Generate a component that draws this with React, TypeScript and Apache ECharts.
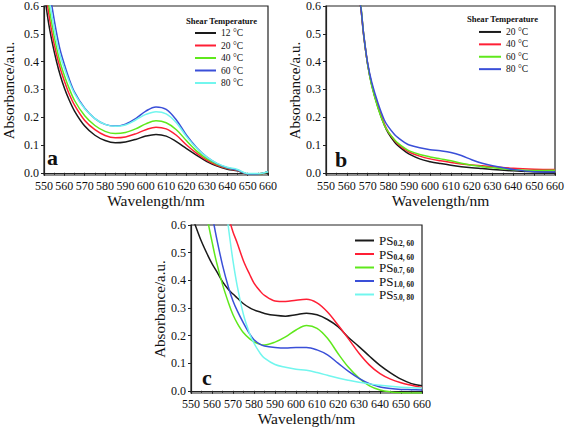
import React, { useEffect, useRef } from "react";
import * as echarts from "echarts";

const FONT = "Liberation Serif";

// ---------- Panel a ----------
const WL_A = [550, 552, 554, 556, 558, 560, 562, 565, 570, 575, 580, 585, 590, 595, 600, 605, 610, 615, 620, 625, 630, 635, 640, 645, 650, 655, 660];
const A_12 = [0.66, 0.55, 0.47, 0.405, 0.35, 0.305, 0.268, 0.222, 0.168, 0.135, 0.116, 0.108, 0.111, 0.12, 0.132, 0.138, 0.132, 0.112, 0.087, 0.063, 0.04, 0.024, 0.013, 0.007, -0.004, -0.004, 0.003];
const A_20 = [0.7, 0.59, 0.5, 0.43, 0.375, 0.33, 0.29, 0.243, 0.188, 0.155, 0.134, 0.126, 0.129, 0.14, 0.155, 0.164, 0.158, 0.135, 0.1, 0.07, 0.045, 0.027, 0.015, 0.008, -0.004, -0.004, 0.003];
const A_40 = [0.73, 0.62, 0.53, 0.455, 0.395, 0.35, 0.31, 0.26, 0.205, 0.17, 0.149, 0.141, 0.145, 0.158, 0.176, 0.187, 0.18, 0.155, 0.115, 0.078, 0.05, 0.03, 0.017, 0.01, -0.004, -0.004, 0.003];
const A_60 = [0.8, 0.69, 0.595, 0.51, 0.44, 0.39, 0.345, 0.29, 0.232, 0.195, 0.174, 0.168, 0.175, 0.195, 0.222, 0.237, 0.228, 0.19, 0.135, 0.09, 0.056, 0.033, 0.018, 0.01, -0.004, -0.004, 0.004];
const A_80 = [0.76, 0.65, 0.56, 0.48, 0.42, 0.375, 0.335, 0.285, 0.23, 0.195, 0.174, 0.167, 0.172, 0.19, 0.21, 0.22, 0.212, 0.18, 0.13, 0.088, 0.056, 0.034, 0.02, 0.012, -0.003, -0.003, 0.004];

// ---------- Panel b ----------
const WL_B = [562, 565, 567, 568, 570, 572, 575, 578, 580, 583, 585, 588, 590, 595, 600, 605, 610, 615, 620, 625, 630, 640, 650, 660];
const B_20 = [0.9, 0.7, 0.575, 0.5, 0.39, 0.315, 0.235, 0.172, 0.142, 0.11, 0.095, 0.077, 0.067, 0.05, 0.04, 0.033, 0.027, 0.022, 0.018, 0.015, 0.012, 0.007, 0.004, 0.002];
const B_40 = [0.9, 0.7, 0.578, 0.503, 0.392, 0.318, 0.238, 0.176, 0.146, 0.116, 0.1, 0.083, 0.074, 0.06, 0.05, 0.043, 0.037, 0.032, 0.028, 0.025, 0.022, 0.016, 0.013, 0.012];
const B_60 = [0.92, 0.71, 0.585, 0.505, 0.39, 0.312, 0.232, 0.172, 0.146, 0.118, 0.104, 0.088, 0.079, 0.066, 0.057, 0.05, 0.043, 0.034, 0.027, 0.022, 0.018, 0.011, 0.008, 0.009];
const B_80 = [0.9, 0.7, 0.58, 0.505, 0.395, 0.325, 0.25, 0.19, 0.165, 0.137, 0.124, 0.108, 0.1, 0.09, 0.083, 0.079, 0.073, 0.062, 0.047, 0.034, 0.025, 0.012, 0.004, 0.003];

// ---------- Panel c ----------
const WL_C = [550, 552, 555, 558, 560, 562, 565, 568, 570, 572, 575, 578, 580, 583, 585, 590, 595, 600, 605, 610, 615, 620, 625, 630, 635, 640, 645, 650, 655, 660];
const C_02 = [0.64, 0.6, 0.54, 0.49, 0.46, 0.435, 0.395, 0.365, 0.35, 0.336, 0.315, 0.3, 0.293, 0.285, 0.28, 0.273, 0.27, 0.275, 0.281, 0.275, 0.258, 0.232, 0.193, 0.16, 0.125, 0.092, 0.065, 0.042, 0.026, 0.018];
const C_04 = [1.2, 1.1, 1.0, 0.9, 0.84, 0.78, 0.7, 0.625, 0.575, 0.535, 0.47, 0.42, 0.39, 0.36, 0.345, 0.325, 0.323, 0.328, 0.331, 0.318, 0.285, 0.238, 0.188, 0.136, 0.093, 0.062, 0.042, 0.029, 0.02, 0.012];
const C_07 = [1.0, 0.9, 0.75, 0.615, 0.54, 0.47, 0.385, 0.315, 0.275, 0.245, 0.21, 0.188, 0.177, 0.168, 0.166, 0.176, 0.195, 0.22, 0.236, 0.226, 0.19, 0.135, 0.085, 0.046, 0.018, 0.003, -0.004, -0.007, -0.008, -0.008];
const C_10 = [1.1, 1.0, 0.85, 0.72, 0.64, 0.56, 0.455, 0.37, 0.325, 0.29, 0.245, 0.205, 0.185, 0.168, 0.162, 0.157, 0.155, 0.157, 0.157, 0.148, 0.13, 0.1, 0.07, 0.045, 0.026, 0.014, 0.008, 0.005, 0.004, 0.003];
const C_50 = [2.0, 1.8, 1.5, 1.2, 1.05, 0.92, 0.76, 0.58, 0.47, 0.38, 0.275, 0.205, 0.172, 0.135, 0.118, 0.095, 0.085, 0.078, 0.074, 0.066, 0.056, 0.046, 0.038, 0.031, 0.025, 0.02, 0.016, 0.013, 0.011, 0.01];

const TEMPS_A = ["12 °C", "20 °C", "40 °C", "60 °C", "80 °C"];
const TEMPS_B = ["20 °C", "40 °C", "60 °C", "80 °C"];
const SAMPLES_C = ["0.2, 60", "0.4, 60", "0.7, 60", "1.0, 60", "5.0, 80"];
const Y_TICKS = [0, 0.1, 0.2, 0.3, 0.4, 0.5, 0.6];

const BLACK = "#1a1a1a";
const RED = "#ff1f35";
const GREEN = "#5fe81c";
const BLUE = "#3a4fd8";
const CYAN = "#72f6ee";

const COLORS_A = [BLACK, RED, GREEN, BLUE, CYAN];
const COLORS_B = [BLACK, RED, GREEN, BLUE];
const COLORS_C = [BLACK, RED, GREEN, BLUE, CYAN];

const DATA_A = [A_12, A_20, A_40, A_60, A_80];
const DATA_B = [B_20, B_40, B_60, B_80];
const DATA_C = [C_02, C_04, C_07, C_10, C_50];

const AXIS_COLOR = "#222";

function xAxisCfg(gridIndex: number, nameGap: number) {
  return {
    type: "value",
    gridIndex,
    min: 550,
    max: 660,
    interval: 10,
    axisLine: { show: true, lineStyle: { color: AXIS_COLOR, width: 1.2 } },
    axisTick: { show: true, inside: false, length: 3, lineStyle: { color: AXIS_COLOR } },
    minorTick: { show: true, splitNumber: 2, length: 2, lineStyle: { color: AXIS_COLOR } },
    axisLabel: { fontFamily: FONT, fontSize: 12, color: "#111", margin: 5 },
    splitLine: { show: false },
    name: "Wavelength/nm",
    nameLocation: "middle",
    nameGap,
    nameTextStyle: { fontFamily: FONT, fontSize: 15.5, color: "#111" },
  };
}

function yAxisCfg(gridIndex: number, nameGap: number) {
  return {
    type: "value",
    gridIndex,
    min: -0.008,
    max: 0.6,
    axisLine: { show: true, lineStyle: { color: AXIS_COLOR, width: 1.2 } },
    axisTick: { show: true, inside: false, length: 3, customValues: Y_TICKS, lineStyle: { color: AXIS_COLOR } },
    axisLabel: {
      customValues: Y_TICKS,
      formatter: (v: number) => v.toFixed(1),
      fontFamily: FONT,
      fontSize: 12,
      color: "#111",
      margin: 5,
    },
    splitLine: { show: false },
    name: "Absorbance/a.u.",
    nameLocation: "middle",
    nameGap,
    nameTextStyle: { fontFamily: FONT, fontSize: 15, color: "#111" },
  };
}

function makeSeries(prefix: string, names: string[], wl: number[], data: number[][], colors: string[], idx: number) {
  return names.map((n, i) => ({
    type: "line",
    name: prefix + "|" + n,
    xAxisIndex: idx,
    yAxisIndex: idx,
    data: wl.map((w, k) => [w, data[i][k]]),
    showSymbol: false,
    symbol: "none",
    smooth: 0.35,
    clip: true,
    lineStyle: { color: colors[i], width: 1.5 },
    itemStyle: { color: colors[i] },
    z: 3,
  }));
}

export default function App() {
  const ref = useRef<HTMLDivElement>(null);
  useEffect(() => {
    if (!ref.current) return;
    const chart = echarts.init(ref.current, null, { renderer: "svg" });
    const gridBase = { show: true, borderColor: AXIS_COLOR, borderWidth: 1.2, backgroundColor: "transparent", containLabel: false };
    const option = {
      animation: false,
      backgroundColor: "#fff",
      textStyle: { fontFamily: FONT },
      grid: [
        { ...gridBase, left: 44, top: 6, width: 224, height: 169 },
        { ...gridBase, left: 326, top: 6, width: 232, height: 169 },
        { ...gridBase, left: 191, top: 225, width: 231, height: 168 },
      ],
      xAxis: [xAxisCfg(0, 16), xAxisCfg(1, 14), xAxisCfg(2, 17)],
      yAxis: [yAxisCfg(0, 28), yAxisCfg(1, 23), yAxisCfg(2, 19)],
      legend: [
        {
          data: TEMPS_A.map((n) => "a|" + n),
          orient: "vertical",
          left: 195,
          top: 26.75,
          itemWidth: 21,
          itemHeight: 2,
          icon: "rect",
          itemGap: 0,
          padding: 0,
          selectedMode: false,
          formatter: (name: string) => name.split("|")[1],
          textStyle: { fontFamily: FONT, fontSize: 9.5, color: "#111", lineHeight: 12.5 },
        },
        {
          data: TEMPS_B.map((n) => "b|" + n),
          orient: "vertical",
          left: 479,
          top: 25.75,
          itemWidth: 22,
          itemHeight: 2,
          icon: "rect",
          itemGap: 0,
          padding: 0,
          selectedMode: false,
          formatter: (name: string) => name.split("|")[1],
          textStyle: { fontFamily: FONT, fontSize: 9.5, color: "#111", lineHeight: 12.4 },
        },
        {
          data: SAMPLES_C.map((n) => "c|" + n),
          orient: "vertical",
          left: 355,
          top: 234,
          itemWidth: 19,
          itemHeight: 2,
          icon: "rect",
          itemGap: 0,
          padding: 0,
          selectedMode: false,
          formatter: (name: string) => "{p|PS}{s|" + name.split("|")[1] + "}",
          textStyle: {
            fontFamily: FONT,
            color: "#111",
            rich: {
              p: { fontFamily: FONT, fontSize: 13, lineHeight: 14, color: "#111" },
              s: { fontFamily: FONT, fontSize: 7.5, fontWeight: "bold", lineHeight: 6, verticalAlign: "bottom", color: "#111" },
            },
          },
        },
      ],
      graphic: [
        { type: "text", left: 186, top: 16, style: { text: "Shear Temperature", fontFamily: FONT, fontWeight: "bold", fontSize: 8.6, fill: "#111" } },
        { type: "text", left: 467, top: 14, style: { text: "Shear Temperature", fontFamily: FONT, fontWeight: "bold", fontSize: 8.6, fill: "#111" } },
        { type: "text", left: 47, top: 146, style: { text: "a", fontFamily: FONT, fontWeight: "bold", fontSize: 22, fill: "#111" } },
        { type: "text", left: 335, top: 148, style: { text: "b", fontFamily: FONT, fontWeight: "bold", fontSize: 22, fill: "#111" } },
        { type: "text", left: 202, top: 366, style: { text: "c", fontFamily: FONT, fontWeight: "bold", fontSize: 22, fill: "#111" } },
      ],
      series: [
        ...makeSeries("a", TEMPS_A, WL_A, DATA_A, COLORS_A, 0),
        ...makeSeries("b", TEMPS_B, WL_B, DATA_B, COLORS_B, 1),
        ...makeSeries("c", SAMPLES_C, WL_C, DATA_C, COLORS_C, 2),
      ],
    };
    chart.setOption(option as any);
    return () => chart.dispose();
  }, []);
  return (
    <div
      ref={ref}
      style={{ position: "fixed", left: 0, top: 0, width: 567, height: 429, background: "#fff" }}
    />
  );
}
